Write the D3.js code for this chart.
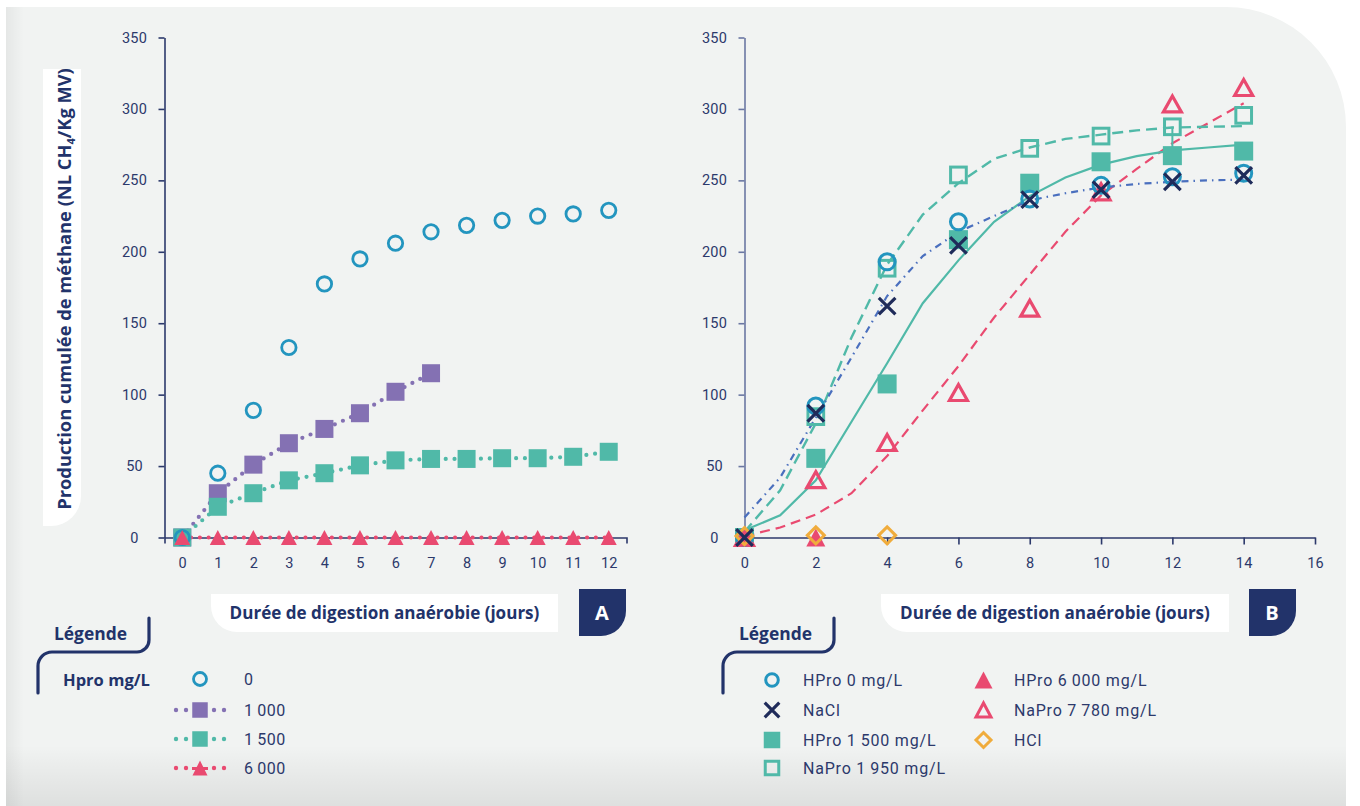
<!DOCTYPE html>
<html><head><meta charset="utf-8">
<script src="https://cdn.jsdelivr.net/npm/d3@7"></script>
<style>
html,body{margin:0;padding:0;background:#fff;}
svg{display:block;}
</style></head><body>
<svg id="chart" width="1360" height="806"></svg>
<script>
// ---------- Panel A data (Hpro mg/L) ----------
const daysA      = [0,1,2,3,4,5,6,7,8,9,10,11,12];
const hpro0A     = [0,45,89,133,177.5,195,206,214,218.5,222,225,226.5,229];
const days1000A  = [0,1,2,3,4,5,6,7];
const hpro1000A  = [0,31,51,66,76,87,102,115];
const hpro1500A  = [0,21.5,31,40,45,50.5,54,55,55,55.5,55.5,56.5,60];
const hpro6000A  = [0,0,0,0,0,0,0,0,0,0,0,0,0];
const legendALabels = ["0","1\u2009000","1\u2009500","6\u2009000"];

// ---------- Panel B data ----------
const daysB       = [0,2,4,6,8,10,12,14];
const hpro0B      = [0,92,193,221,237,246.5,252.5,255];
const naclB       = [0,87,162,204.5,236.5,243.5,249,253.5];
const hpro1500B   = [0,55.4,107.5,208.5,248,263,267.3,270.5];
const napro1950B  = [0,84.6,188.5,253.8,272.4,281,287.5,295.5];
const days6000B   = [0,2];
const hpro6000B   = [0,0];
const napro7780B  = [0,40.5,66.5,101.5,160.5,242,303.5,315];
const daysHclB    = [0,2,4];
const hclB        = [1,1.5,1.5];
const errDaysB    = [12];
const errLowB     = [267.3];
const errHighB    = [287.5];

// fitted curves (panel B)
const fitDays       = [0,1,2,3,4,5,6,7,8,9,10,11,12,13,14];
const fitHPro0      = [14,42,84,126,169,197,214,225,236,241,245,247.5,249,250,250.5];
const fitHPro1500   = [5,15.5,40,81,122,164,194,221,239,252,261,267,271,273,275];
const fitNaPro1950  = [4,33,80,140,191,226,248,265,273,279,282,285,287,287.5,288];
const fitNaPro7780  = [1,7,16,31,57,89,120,154,184,214,239.5,258,276,290,304];

const yTicks  = [0,50,100,150,200,250,300,350];
const xTicksA = [0,1,2,3,4,5,6,7,8,9,10,11,12];
const xTicksB = [0,2,4,6,8,10,12,14,16];

const legendBCol1 = ["HPro 0 mg/L","NaCl","HPro 1\u2009500 mg/L","NaPro 1\u2009950 mg/L"];
const legendBCol2 = ["HPro 6\u2009000 mg/L","NaPro 7\u2009780 mg/L","HCl"];

// ---------- styles ----------
const C = {navy:"#22336a", axis:"#2c396b", axisB:"#6b77a2", teal:"#50b9a8", purple:"#8471b3",
           red:"#e94a70", blue:"#2395bf", xnavy:"#1f2b5a", orange:"#f0ac3c", dashblue:"#4a6fbe", bg:"#f1f3f2"};
const tickFont = "Roboto, 'Liberation Sans', sans-serif";
const boldFont = "'Open Sans', 'Noto Sans', sans-serif";

const svg = d3.select("#chart");
const W = 1360, H = 806;
const defs = svg.append("defs");
const gBot = defs.append("linearGradient").attr("id","gBot").attr("x1",0).attr("y1",0).attr("x2",0).attr("y2",1);
gBot.append("stop").attr("offset",0).attr("stop-color","#000").attr("stop-opacity",0);
gBot.append("stop").attr("offset",1).attr("stop-color","#000").attr("stop-opacity",0.08);
const gLeft = defs.append("linearGradient").attr("id","gLeft").attr("x1",0).attr("y1",0).attr("x2",1).attr("y2",0);
gLeft.append("stop").attr("offset",0).attr("stop-color","#000").attr("stop-opacity",0.05);
gLeft.append("stop").attr("offset",1).attr("stop-color","#000").attr("stop-opacity",0);

const panelPath = "M6,7 H1226 A120,120 0 0 1 1346,127 V806 H6 Z";
svg.append("rect").attr("width",W).attr("height",H).attr("fill","#fff");
defs.append("clipPath").attr("id","clipP").append("path").attr("d",panelPath);
svg.append("path").attr("d",panelPath).attr("fill",C.bg);
const shade = svg.append("g").attr("clip-path","url(#clipP)");
shade.append("rect").attr("x",0).attr("y",745).attr("width",W).attr("height",61).attr("fill","url(#gBot)");
shade.append("rect").attr("x",6).attr("y",0).attr("width",18).attr("height",H).attr("fill","url(#gLeft)");

// ---------- helpers ----------
function fitWidth(sel, target){
  const n = sel.node(); const fs = parseFloat(sel.attr("font-size"));
  const w = n.getComputedTextLength();
  if (w > 0) sel.attr("font-size", (fs*target/w).toFixed(2));
}
function marker(g, type, x, y, o){
  o = o || {};
  const col = o.color;
  if (type==="circle"){
    g.append("circle").attr("cx",x).attr("cy",y).attr("r",o.r).attr("fill","none").attr("stroke",col).attr("stroke-width",o.sw);
  } else if (type==="sqFill"){
    g.append("rect").attr("x",x-o.s/2).attr("y",y-o.s/2).attr("width",o.s).attr("height",o.s).attr("fill",col);
  } else if (type==="sqOpen"){
    g.append("rect").attr("x",x-o.s/2).attr("y",y-o.s/2).attr("width",o.s).attr("height",o.s).attr("fill","none").attr("stroke",col).attr("stroke-width",o.sw);
  } else if (type==="triFill" || type==="triOpen"){
    const p = `M${x},${y-o.h/2} L${x+o.w/2},${y+o.h/2} L${x-o.w/2},${y+o.h/2} Z`;
    const t = g.append("path").attr("d",p);
    if (type==="triFill") t.attr("fill",col);
    else t.attr("fill","none").attr("stroke",col).attr("stroke-width",o.sw).attr("stroke-linejoin","miter");
  } else if (type==="x"){
    const a = o.a;
    g.append("path").attr("d",`M${x-a},${y-a} L${x+a},${y+a} M${x-a},${y+a} L${x+a},${y-a}`)
      .attr("stroke",col).attr("stroke-width",o.sw).attr("fill","none");
  } else if (type==="diamond"){
    const a = o.a;
    g.append("path").attr("d",`M${x},${y-a} L${x+a},${y} L${x},${y+a} L${x-a},${y} Z`)
      .attr("fill","none").attr("stroke",col).attr("stroke-width",o.sw).attr("stroke-linejoin","miter");
  }
}
function styleAxis(g, color){
  g.selectAll("path.domain").attr("stroke",color).attr("stroke-width",1.6);
  g.selectAll(".tick line").attr("stroke",color).attr("stroke-width",1.6);
  g.selectAll(".tick text").attr("fill",C.axis).attr("font-family",tickFont).attr("font-size",14.5).attr("letter-spacing",0.2);
}

// ---------- scales ----------
const yScale = d3.scaleLinear().domain([0,350]).range([537.5,37.5]);
const xA = d3.scaleLinear().domain([-0.5,12.5]).range([164.5,626.5]);
const xB = d3.scaleLinear().domain([0,16]).range([744.5,1315]);

// ---------- Panel A axes ----------
const axAy = svg.append("g").attr("transform",`translate(${xA(-0.5)},0)`)
  .call(d3.axisLeft(yScale).tickValues(yTicks).tickSize(6).tickSizeOuter(0));
styleAxis(axAy, C.axis);
axAy.selectAll(".tick text").attr("x",-30).attr("text-anchor","middle");
const axAx = svg.append("g").attr("transform",`translate(0,${yScale(0)})`)
  .call(d3.axisBottom(xA).tickValues(xTicksA).tickSize(6).tickSizeOuter(6).tickPadding(14));
styleAxis(axAx, C.axis);

// ---------- Panel B axes ----------
const axBy = svg.append("g").attr("transform",`translate(${xB(0)},0)`)
  .call(d3.axisLeft(yScale).tickValues(yTicks).tickSize(6).tickSizeOuter(0));
styleAxis(axBy, C.axisB);
axBy.selectAll(".tick text").attr("x",-30).attr("text-anchor","middle");
const axBx = svg.append("g").attr("transform",`translate(0,${yScale(0)})`)
  .call(d3.axisBottom(xB).tickValues(xTicksB).tickSize(7).tickSizeOuter(0).tickPadding(13));
styleAxis(axBx, C.axis);

// ---------- Panel A lines (dotted) ----------
const lineA = (xs, ys) => d3.line().x((d,i)=>xA(xs[i])).y(d=>yScale(d))(ys);
const gA = svg.append("g");
[[days1000A,hpro1000A,C.purple],[daysA,hpro1500A,C.teal],[daysA,hpro6000A,C.red]].forEach(([xs,ys,c])=>{
  gA.append("path").attr("d",lineA(xs,ys)).attr("fill","none").attr("stroke",c)
    .attr("stroke-width",4.2).attr("stroke-linecap","round").attr("stroke-dasharray","0 8.8");
});
days1000A.forEach((d,i)=>marker(gA,"sqFill",xA(d),yScale(hpro1000A[i]),{s:18,color:C.purple}));
daysA.forEach((d,i)=>marker(gA,"sqFill",xA(d),yScale(hpro1500A[i]),{s:18,color:C.teal}));
daysA.forEach((d,i)=>marker(gA,"circle",xA(d),yScale(hpro0A[i]),{r:7.2,sw:2.8,color:C.blue}));
daysA.forEach((d,i)=>marker(gA,"triFill",xA(d),yScale(hpro6000A[i]),{w:16,h:15,color:C.red}));

// ---------- Panel B lines ----------
const lineB = ys => d3.line().x((d,i)=>xB(fitDays[i])).y(d=>yScale(d))(ys);
const gB = svg.append("g");
gB.append("path").attr("d",lineB(fitNaPro7780)).attr("fill","none").attr("stroke",C.red).attr("stroke-width",2.2).attr("stroke-dasharray","10 6");
gB.append("path").attr("d",lineB(fitHPro1500)).attr("fill","none").attr("stroke",C.teal).attr("stroke-width",2.2);
gB.append("path").attr("d",lineB(fitNaPro1950)).attr("fill","none").attr("stroke",C.teal).attr("stroke-width",2.4).attr("stroke-dasharray","11 6");
gB.append("path").attr("d",lineB(fitHPro0)).attr("fill","none").attr("stroke",C.dashblue).attr("stroke-width",2.2).attr("stroke-dasharray","7 5 1.5 5");
errDaysB.forEach((d,i)=>{
  gB.append("line").attr("x1",xB(d)).attr("x2",xB(d)).attr("y1",yScale(errLowB[i])).attr("y2",yScale(errHighB[i]))
    .attr("stroke",C.teal).attr("stroke-width",2);
});
daysB.forEach((d,i)=>marker(gB,"sqFill",xB(d),yScale(hpro1500B[i]),{s:19,color:C.teal}));
daysB.forEach((d,i)=>marker(gB,"sqOpen",xB(d),yScale(napro1950B[i]),{s:15.7,sw:3,color:C.teal}));
daysB.forEach((d,i)=>marker(gB,"triOpen",xB(d),yScale(napro7780B[i]),{w:18,h:16,sw:3.2,color:C.red}));
daysB.forEach((d,i)=>marker(gB,"circle",xB(d),yScale(hpro0B[i]),{r:8,sw:3,color:C.blue}));
days6000B.forEach((d,i)=>marker(gB,"triFill",xB(d),yScale(hpro6000B[i]),{w:19,h:18,color:C.red}));
daysHclB.forEach((d,i)=>marker(gB,"diamond",xB(d),yScale(hclB[i]),{a:8.5,sw:3,color:C.orange}));
daysB.forEach((d,i)=>marker(gB,"x",xB(d),yScale(naclB[i]),{a:8.3,sw:3.2,color:C.xnavy}));

// ---------- Y title (panel A) ----------
svg.append("path").attr("d","M43,69 H81 V496 A30,30 0 0 1 51,526 H43 Z").attr("fill","#fff");
const yt = svg.append("text").attr("transform","translate(70.5,289) rotate(-90)")
  .attr("text-anchor","middle").attr("font-family",boldFont).attr("font-weight",700)
  .attr("font-size",17).attr("fill",C.navy);
yt.append("tspan").text("Production cumulée de méthane (NL CH");
yt.append("tspan").attr("font-size","0.6em").attr("dy",4).text("4");
yt.append("tspan").attr("dy",-4).text("/Kg MV)");
fitWidth(yt, 442);

// ---------- X titles and panel letters ----------
function xTitle(x0, x1, letterX0, letter){
  svg.append("path").attr("d",`M${x0+26},594 H${x1} V632 H${x0+26} A26,26 0 0 1 ${x0},606 V594 Z`).attr("fill","#fff");
  const t = svg.append("text").attr("x",(x0+x1)/2).attr("y",618.5).attr("text-anchor","middle")
    .attr("font-family",boldFont).attr("font-weight",700).attr("font-size",16).attr("fill",C.navy)
    .text("Durée de digestion anaérobie (jours)");
  fitWidth(t, 310);
  svg.append("path").attr("d",`M${letterX0},589 H${letterX0+47} V611 A25,25 0 0 1 ${letterX0+22},636 H${letterX0} Z`).attr("fill",C.navy);
  svg.append("text").attr("x",letterX0+23).attr("y",619.5).attr("text-anchor","middle")
    .attr("font-family",boldFont).attr("font-weight",700).attr("font-size",20).attr("fill","#fff").text(letter);
}
xTitle(211, 558, 579, "A");
xTitle(881, 1229, 1249, "B");

// ---------- Legend headers ----------
function legendHeader(lx, rightX, leftX){
  const t = svg.append("text").attr("x",lx).attr("y",639.5).attr("font-family",boldFont).attr("font-weight",700)
    .attr("font-size",16).attr("fill",C.navy).text("Légende");
  fitWidth(t, 73);
  svg.append("path").attr("d",`M${rightX},618 V640 A12,12 0 0 1 ${rightX-12},652 H${leftX+14} A14,14 0 0 0 ${leftX},666 V693`)
    .attr("fill","none").attr("stroke",C.navy).attr("stroke-width",3.2).attr("stroke-linecap","round");
}
legendHeader(54, 149, 38);
legendHeader(739, 834, 723);

// ---------- Legend A ----------
const hp = svg.append("text").attr("x",63).attr("y",685.5).attr("font-family",boldFont).attr("font-weight",700)
  .attr("font-size",16).attr("fill",C.navy).text("Hpro mg/L");
fitWidth(hp, 87);
const legARows = [679,710,739,768];
const legAColors = [C.blue,C.purple,C.teal,C.red];
legARows.forEach((y,i)=>{
  const g = svg.append("g");
  if (i>0){
    [-24,-14,14,24].forEach(dx=>g.append("circle").attr("cx",200+dx).attr("cy",y).attr("r",2.2).attr("fill",legAColors[i]));
  }
  if (i===0) marker(g,"circle",200,y,{r:6.5,sw:2.8,color:C.blue});
  else if (i<3) marker(g,"sqFill",200,y,{s:15.5,color:legAColors[i]});
  else {
    marker(g,"triFill",200,y,{w:15,h:15,color:C.red});
    g.append("rect").attr("x",192).attr("y",y-1).attr("width",16).attr("height",3).attr("fill",C.red);
  }
  svg.append("text").attr("x",244).attr("y",y+5.5).attr("font-family",tickFont).attr("font-size",16)
    .attr("letter-spacing",0.5).attr("fill",C.axis).text(legendALabels[i]);
});

// ---------- Legend B ----------
const legBRows = [680,710,740,768];
const col1Types = [["circle",{r:6.3,sw:3,color:C.blue}],["x",{a:7.3,sw:3.2,color:C.xnavy}],["sqFill",{s:16.5,color:C.teal}],["sqOpen",{s:13.5,sw:3,color:C.teal}]];
const col2Types = [["triFill",{w:18,h:17,color:C.red}],["triOpen",{w:15,h:14,sw:3,color:C.red}],["diamond",{a:7.5,sw:3,color:C.orange}]];
legendBCol1.forEach((lab,i)=>{
  marker(svg, col1Types[i][0], 772, legBRows[i], col1Types[i][1]);
  svg.append("text").attr("x",803).attr("y",legBRows[i]+5.5).attr("font-family",tickFont).attr("font-size",16)
    .attr("letter-spacing",0.8).attr("fill",C.axis).text(lab);
});
legendBCol2.forEach((lab,i)=>{
  marker(svg, col2Types[i][0], 983.5, legBRows[i], col2Types[i][1]);
  svg.append("text").attr("x",1014).attr("y",legBRows[i]+5.5).attr("font-family",tickFont).attr("font-size",16)
    .attr("letter-spacing",0.8).attr("fill",C.axis).text(lab);
});
</script>
</body></html>
